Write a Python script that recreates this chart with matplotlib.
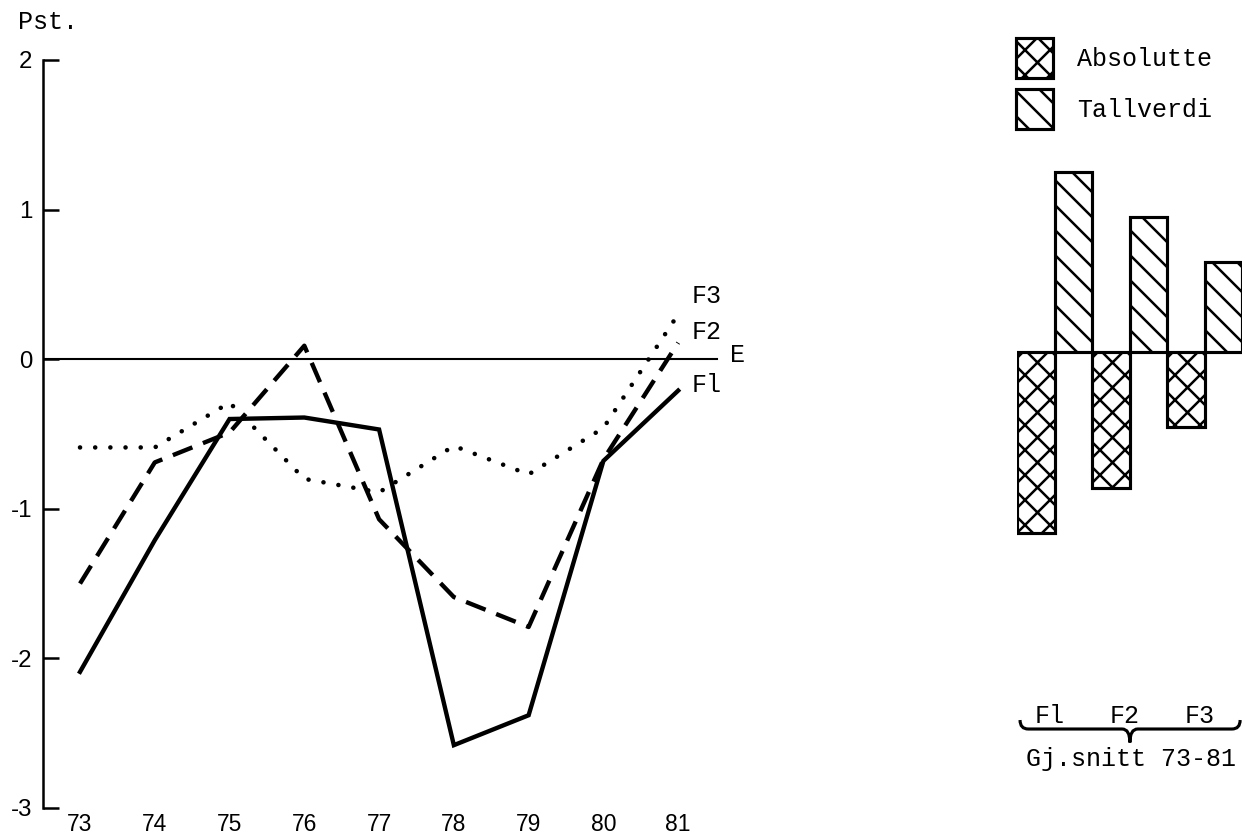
import matplotlib
matplotlib.use("Agg")
import matplotlib.pyplot as plt
from matplotlib.patches import Patch, PathPatch
from matplotlib.path import Path

# data
years = [73, 74, 75, 76, 77, 78, 79, 80, 81]
f1 = [-2.09, -1.21, -0.40, -0.39, -0.47, -2.58, -2.38, -0.68, -0.21]
f2 = [-1.50, -0.69, -0.49, 0.09, -1.07, -1.59, -1.79, -0.67, 0.11]
f3 = [-0.59, -0.59, -0.29, -0.80, -0.89, -0.58, -0.77, -0.46, 0.30]

groups = ["Fl", "F2", "F3"]
absolutte = [-1.21, -0.91, -0.50]
tallverdi = [1.20, 0.90, 0.60]

mono = "Liberation Mono"
sans = "Liberation Sans"
plt.rcParams["hatch.linewidth"] = 1.2

fig = plt.figure(figsize=(8.3, 5.58), dpi=150)

# venstre panel: linjer
ax = fig.add_axes([0.03454, 0.03465, 0.5462, 0.8937])
ax.set_xlim(72.505, 81.60)
ax.set_ylim(-3, 2)
for s in ["top", "right", "bottom"]:
    ax.spines[s].set_visible(False)
ax.spines["left"].set_linewidth(1.2)
ax.set_yticks([-3, -2, -1, 0, 1, 2])
ax.set_yticklabels(["-3", "-2", "-1", "0", "1", "2"], family=sans, fontsize=11.5)
ax.tick_params(axis="y", direction="in", length=7.5, width=1.2, pad=5)
ax.set_xticks(years)
ax.set_xticklabels([str(y) for y in years], family=sans, fontsize=11)
ax.tick_params(axis="x", length=0, pad=2.5)

ax.axhline(0, xmax=(81.52 - 72.505) / (81.60 - 72.505), color="black", lw=1.0)

ax.plot(years, f1, color="black", lw=2.1, solid_joinstyle="miter")
ax.plot(years, f2, color="black", lw=2.1, linestyle=(0, (4.8, 2.6)))
ax.plot(years, f3, color="black", lw=2.2, linestyle=(0, (0.01, 3.3)),
        dash_capstyle="round")

ax.annotate("F3", (years[-1], f3[-1]), xytext=(6.5, 9), textcoords="offset points",
            family=mono, fontsize=12, va="center")
ax.annotate("F2", (years[-1], f2[-1]), xytext=(6.5, 5), textcoords="offset points",
            family=mono, fontsize=12, va="center")
ax.annotate("Fl", (years[-1], f1[-1]), xytext=(6.5, 2.5), textcoords="offset points",
            family=mono, fontsize=12, va="center")
ax.text(81.70, 0.03, "E", family=mono, fontsize=12, va="center")

fig.text(18 / 1245, 1 - 22 / 837, "Pst.", family=mono, fontsize=12, va="center")

# høyre panel: gjennomsnitt
ax2 = fig.add_axes([0.8169, 0.03465, 0.1807, 0.8937])
ax2.set_xlim(0, 6)
ax2.set_ylim(-3.048, 1.952)
ax2.axis("off")
pos = [0.5 + 2 * i for i in range(len(groups))]
ax2.bar(pos, absolutte, width=1, color="white", edgecolor="black", lw=1.5, hatch="xx")
ax2.bar([p + 1 for p in pos], tallverdi, width=1, color="white", edgecolor="black",
        lw=1.5, hatch="\\\\")

for p, g in zip(pos, groups):
    ax2.text(p + 0.38, -2.43, g, family=mono, fontsize=12, ha="center", va="center")

# klamme under gruppene
yb, yt, ytip = -2.52, -2.46, -2.61
verts = [(0.08, yt), (0.08, yb), (0.3, yb),
         (2.8, yb),
         (3.01, yb), (3.01, ytip),
         (3.01, yb), (3.22, yb),
         (5.73, yb),
         (5.95, yb), (5.95, yt)]
codes = [Path.MOVETO, Path.CURVE3, Path.CURVE3,
         Path.LINETO,
         Path.CURVE3, Path.CURVE3,
         Path.CURVE3, Path.CURVE3,
         Path.LINETO,
         Path.CURVE3, Path.CURVE3]
ax2.add_patch(PathPatch(Path(verts, codes), fill=False, lw=1.5, clip_on=False))
ax2.text(3.05, -2.72, "Gj.snitt 73-81", family=mono, fontsize=12, ha="center",
         va="center")

handles = [Patch(facecolor="white", edgecolor="black", lw=1.5, hatch="xx"),
           Patch(facecolor="white", edgecolor="black", lw=1.5, hatch="\\\\")]
fig.legend(handles, ["Absolutte", "Tallverdi"], loc="upper left",
           bbox_to_anchor=(1016 / 1245, 1 - 38 / 837), frameon=False,
           prop={"family": mono, "size": 12}, handlelength=1.48, handleheight=2.08,
           handletextpad=0.96, labelspacing=0.46, borderpad=0, borderaxespad=0)

fig.savefig("out.png", dpi=150, facecolor="white")
